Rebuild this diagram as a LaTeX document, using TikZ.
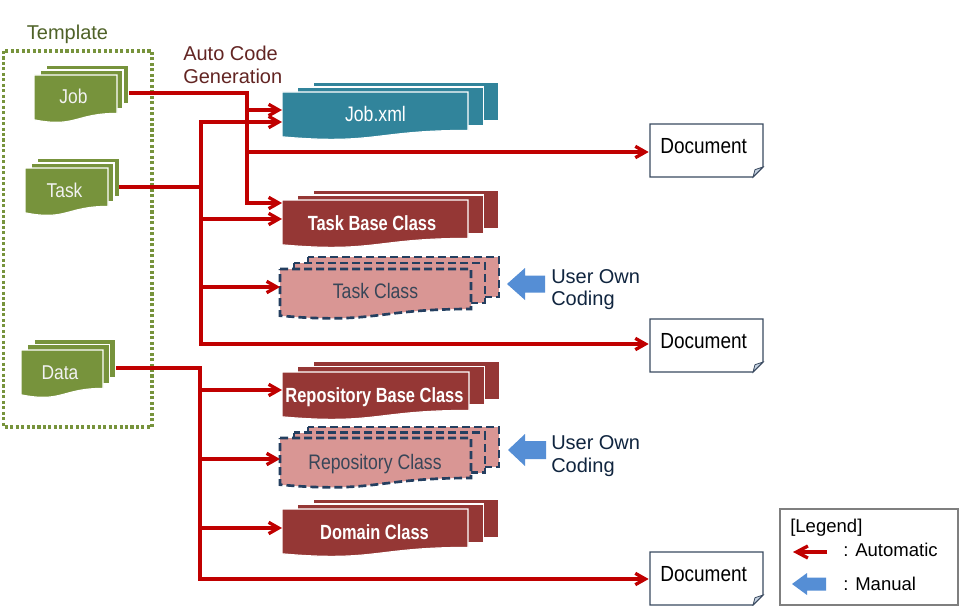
\documentclass[tikz,border=0pt]{standalone}
\usepackage{fontspec}
\setmainfont{Liberation Sans}
\newfontfamily\propf[FakeStretch=0.84]{Liberation Sans}
\newfontfamily\propb[FakeStretch=0.80]{Liberation Sans}
\newfontfamily\docf[FakeStretch=0.87]{Liberation Sans}
\usetikzlibrary{arrows.meta}
\definecolor{tgreen}{HTML}{77933C}
\definecolor{tgtext}{HTML}{4F6228}
\definecolor{autotext}{HTML}{632523}
\definecolor{ared}{HTML}{C00000}
\definecolor{teal}{HTML}{31849B}
\definecolor{dred}{HTML}{953735}
\definecolor{pink}{HTML}{D99694}
\definecolor{navy}{HTML}{243F60}
\definecolor{slate}{HTML}{384658}
\definecolor{ablue}{HTML}{558ED5}
\definecolor{utext}{HTML}{10253F}
\definecolor{docborder}{HTML}{3A4A60}
\definecolor{foldc}{HTML}{C6D3E3}
\definecolor{leggray}{HTML}{7F7F7F}
\newcommand\mstack[7]{%
  \path[#7] ({#1+2*#5},{#2-2*#6}) rectangle ({#1+#3+2*#5},{#2-2*#6+0.8*#4});
  \path[#7] ({#1+#5},{#2-#6}) rectangle ({#1+#3+#5},{#2-#6+0.8*#4});
  \path[#7] (#1,#2) -- ({#1+#3},#2) -- ({#1+#3},{#2+0.8*#4})
     .. controls ({#1+0.5*#3},{#2+0.8*#4}) and ({#1+0.5*#3},{#2+1.107*#4}) .. (#1,{#2+0.934*#4}) -- cycle;}
\tikzset{
  redline/.style={draw=ared, line width=2.5pt, line join=miter},
  redarrow/.style={redline, -{Straight Barb[length=7.5pt,width=8.5pt]}},
  hook/.style={inner sep=0pt, outer sep=0pt, draw=none, fill=none},
  greensheet/.style={fill=tgreen, draw=white, line width=0.9pt},
  tealsheet/.style={fill=teal, draw=white, line width=0.9pt},
  redsheet/.style={fill=dred, draw=white, line width=0.9pt},
  dashsheet/.style={fill=pink, draw=navy, line width=2pt, dash pattern=on 6pt off 3pt},
  glab/.style={inner sep=0pt, text=white!95!black, font=\docf\fontsize{15pt}{17pt}\selectfont, anchor=base},
  wlab/.style={inner sep=0pt, text=white, font=\propf\fontsize{15.75pt}{18pt}\selectfont, anchor=base},
  wblab/.style={inner sep=0pt, text=white, font=\propb\bfseries\fontsize{15.4pt}{18pt}\selectfont, anchor=base},
  slab/.style={inner sep=0pt, text=slate, font=\propf\fontsize{15.75pt}{18pt}\selectfont, anchor=base},
  monolab/.style={inner sep=0pt, font=\fontsize{15pt}{17pt}\selectfont, anchor=base west},
  doclab/.style={inner sep=0pt, font=\docf\fontsize{16.4pt}{19pt}\selectfont, anchor=base west},
  leglab/.style={inner sep=0pt, font=\fontsize{13.9pt}{16pt}\selectfont, anchor=base west},
  docnode/.style={hook, minimum width=84.75pt, minimum height=39.75pt},
  docline/.style={draw=docborder, line width=0.8pt, fill=white},
  bluearrow/.style={fill=ablue},
}
\begin{document}
\begin{tikzpicture}[x=0.75pt,y=-0.75pt]
\useasboundingbox (0,0) rectangle (959,606);
\fill[white] (0,0) rectangle (959,606);

% Template group
\node[monolab, anchor=base, text=tgtext] (templL) at (67.5,40) {Template};
\draw[tgreen, line width=2.5pt, dash pattern=on 2.3pt off 1.8pt] (3.5,51) rectangle (152,427);

\mstack{34}{75}{83}{48}{6}{5}{greensheet}
\mstack{25}{168}{83}{48}{6}{5}{greensheet}
\mstack{21}{350}{82}{48}{6.5}{5.2}{greensheet}
\node[glab] (jobL) at (73.5,104) {Job};
\node[glab] (taskL) at (64.5,197) {Task};
\node[glab] (dataL) at (60,379) {Data};
\node[hook, minimum width=71.25pt, minimum height=41.25pt] (jobS) at (81.5,93) {};
\node[hook, minimum width=70.5pt, minimum height=41.25pt] (taskS) at (72,187) {};
\node[hook, minimum width=71.25pt, minimum height=41.25pt] (dataS) at (68.5,368) {};

% Auto code generation
\node[monolab, text=autotext] (autoL1) at (183,61) {Auto Code};
\node[monolab, text=autotext] (autoL2) at (183,83.5) {Generation};

% generated artefacts
\mstack{282}{92}{186}{48}{15.5}{5}{tealsheet}
\mstack{282}{200}{186}{48}{15.5}{5}{redsheet}
\mstack{280}{269}{191}{50}{14}{6}{dashsheet}
\mstack{282}{372}{187}{48}{15.5}{5.5}{redsheet}
\mstack{280}{438}{191}{50}{14}{5.5}{dashsheet}
\mstack{282}{509}{186}{48}{15.5}{5}{redsheet}

\node[hook, minimum width=139.5pt, minimum height=33.75pt] (jobxmlS) at (375,114.5) {};
\node[hook, minimum width=139.5pt, minimum height=33.75pt] (tbcS) at (375,222.5) {};
\node[hook, minimum width=143.25pt, minimum height=36pt] (tcS) at (375.5,293) {};
\node[hook, minimum width=140.25pt, minimum height=33.75pt] (rbcS) at (375.5,394.5) {};
\node[hook, minimum width=143.25pt, minimum height=36pt] (rcS) at (375.5,463) {};
\node[hook, minimum width=139.5pt, minimum height=33.75pt] (dcS) at (375,531) {};

\node[wlab] (jobxmlL) at (375.5,122) {Job.xml};
\node[wblab] (tbcL) at (372,230) {Task Base Class};
\node[slab] (tcL) at (375.5,298) {Task Class};
\node[wblab] (rbcL) at (374.5,402) {Repository Base Class};
\node[slab] (rcL) at (375,469) {Repository Class};
\node[wblab] (dcL) at (374.5,539) {Domain Class};

% Documents
\foreach \n/\yc/\yb in {doc1/150.5/154, doc2/345.5/348, doc3/578.5/581}{
  \node[docnode] (\n) at (706.5,\yc) {};
  \draw[docline] (\n.north west) -- (\n.north east) -- ([yshift=7.5pt]\n.south east)
     -- ([xshift=-7.5pt]\n.south east) -- (\n.south west) -- cycle;
  \draw[draw=docborder, line width=0.6pt, fill=foldc] ([yshift=7.5pt]\n.south east)
     -- ([xshift=-6pt,yshift=5.5pt]\n.south east) -- ([xshift=-7.5pt]\n.south east) -- cycle;
  \node[doclab] (\n L) at (660,\yb) {Document};
}

% Bus coordinates
\coordinate (jb1) at (247,110);
\coordinate (jb2) at (247,152);
\coordinate (jb3) at (247,203);
\coordinate (tb0) at (201,122);
\coordinate (tb1) at (201,219);
\coordinate (tb2) at (201,287);
\coordinate (tb3) at (201,344);
\coordinate (db1) at (200,390);
\coordinate (db2) at (200,459);
\coordinate (db3) at (200,528);
\coordinate (db4) at (200,579);

% Job connectors
\draw[redarrow] (jobS.east) -| (jb3) -- (tbcS.west |- jb3);
\draw[redarrow] (jb1) -- (jobxmlS.west |- jb1);
\draw[redarrow] (jb2) -- ([xshift=-1pt]doc1.west |- jb2);
% Task connectors
\draw[redline, {Straight Barb[length=7.5pt,width=8.5pt]}-{Straight Barb[length=7.5pt,width=8.5pt]}]
   (jobxmlS.west |- tb0) -- (tb0) -- (tb3) -- ([xshift=-1pt]doc2.west |- tb3);
\draw[redline] (taskS.east) -- (taskS.east -| tb0);
\draw[redarrow] (tb1) -- (tbcS.west |- tb1);
\draw[redarrow] (tb2) -- (tcS.west |- tb2);
% Data connectors
\draw[redarrow] (dataS.east) -| (db4) -- ([xshift=-1pt]doc3.west |- db4);
\draw[redarrow] (db1) -- (rbcS.west |- db1);
\draw[redarrow] (db2) -- (rcS.west |- db2);
\draw[redarrow] (db3) -- (dcS.west |- db3);

% Manual coding arrows
\coordinate (ua1) at (507,284);
\coordinate (ua2) at (508,450);
\fill[bluearrow] (ua1) -- ++(18,-16) -- ++(0,7.5) -- ++(20,0) -- ++(0,17) -- ++(-20,0) -- ++(0,7.5) -- cycle;
\fill[bluearrow] (ua2) -- ++(17,-16) -- ++(0,7) -- ++(21,0) -- ++(0,18) -- ++(-21,0) -- ++(0,7) -- cycle;
\node[monolab, text=utext] (u1a) at (551,283) {User\hspace{4pt}Own};
\node[monolab, text=utext] (u1b) at (551,305.5) {Coding};
\node[monolab, text=utext] (u2a) at (551,449) {User\hspace{4pt}Own};
\node[monolab, text=utext] (u2b) at (551,472) {Coding};

% Legend
\node[hook, minimum width=133.5pt, minimum height=72pt] (legend) at (869,557) {};
\draw[draw=leggray, line width=1pt] (legend.north west) rectangle (legend.south east);
\node[leglab] (legT) at (790,532) {[Legend]};
\coordinate (lr1) at (827,552);
\coordinate (lr2) at (793,552);
\draw[redline, -{Straight Barb[length=8.5pt,width=9pt]}] (lr1) -- (lr2);
\node[leglab] (legA) at (843,556) {: Automatic};
\coordinate (lb) at (792,584);
\fill[bluearrow] (lb) -- ++(15,-11) -- ++(0,4.5) -- ++(19,0) -- ++(0,13) -- ++(-19,0) -- ++(0,4.5) -- cycle;
\node[leglab] (legM) at (843,590) {: Manual};
\end{tikzpicture}
\end{document}
